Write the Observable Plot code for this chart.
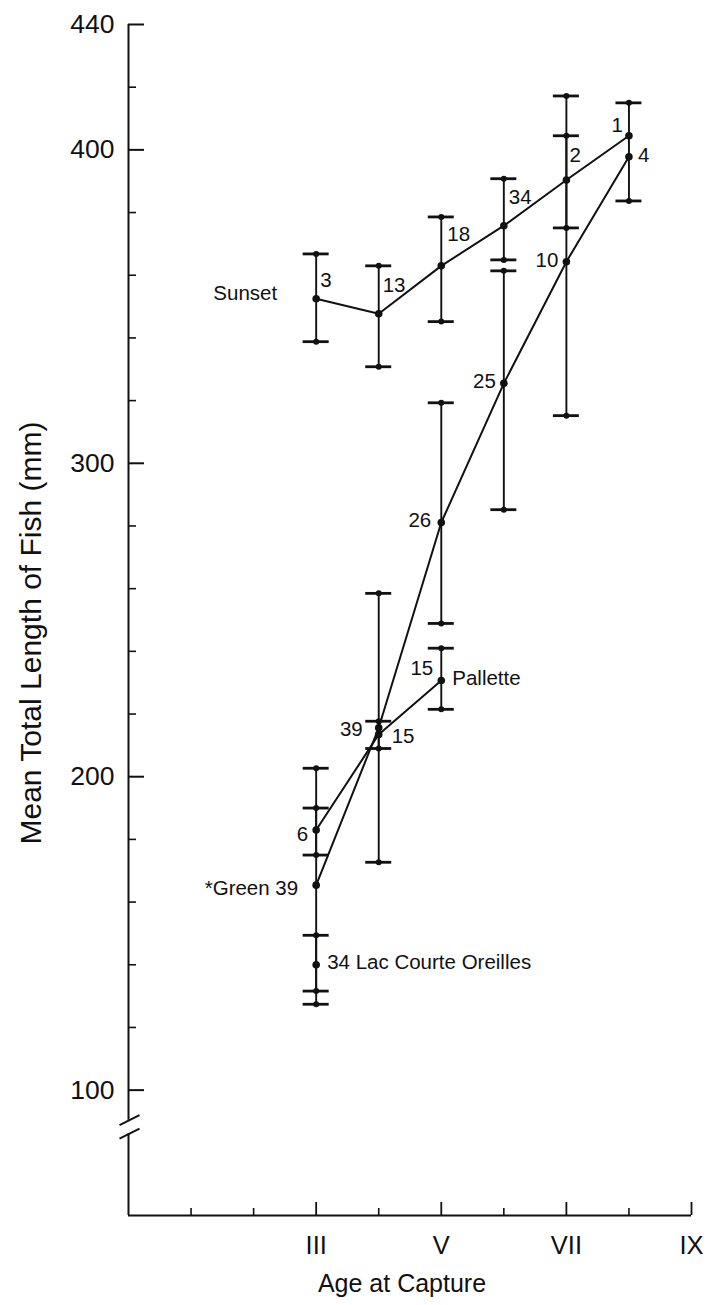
<!DOCTYPE html>
<html>
<head>
<meta charset="utf-8">
<script src="https://cdn.jsdelivr.net/npm/d3@7"></script>
<script src="https://cdn.jsdelivr.net/npm/@observablehq/plot@0.6"></script>
<style>
  html, body { margin: 0; padding: 0; background: #fff; }
  svg { display: block; }
</style>
</head>
<body>
<div id="chart"></div>
<script>
// ---------- data ----------
const yMajorTicks = [100, 200, 300, 400, 440];
const yMinorTicks = [120, 140, 160, 180, 220, 240, 260, 280, 320, 340, 360, 380, 420];
const xMajorTicks = [3, 5, 7, 9];
const xMajorLabels = ["III", "V", "VII", "IX"];
const xMinorTicks = [1, 2, 4, 6, 8];
const yTitle = "Mean Total Length of Fish (mm)";
const xTitle = "Age at Capture";

const sunsetAges = [3, 4, 5, 6, 7, 8];
const sunsetMean = [352.5, 347.7, 363.0, 375.8, 390.4, 404.5];
const sunsetLow  = [338.8, 330.8, 345.2, 364.9, 375.1, null];
const sunsetHigh = [366.8, 363.0, 378.6, 390.8, 404.5, null];
const sunsetN    = [3, 13, 18, 34, 2, 1];

const greenAges = [3, 4, 5, 6, 7, 8];
const greenMean = [165.4, 215.6, 281.1, 325.5, 364.3, 397.8];
const greenLow  = [127.4, 172.7, 248.9, 285.2, 315.2, 383.7];
const greenHigh = [202.7, 258.5, 319.3, 361.4, 417.2, 415.0];
const greenN    = [39, 39, 26, 25, 10, 4];

const palletteAges = [3, 4, 5];
const palletteMean = [183.0, 213.5, 230.7];
const palletteLow  = [175.0, 209.0, 221.5];
const palletteHigh = [190.0, 217.7, 241.0];
const palletteN    = [6, 15, 15];

const lacAges = [3];
const lacMean = [140.0];
const lacLow  = [131.6];
const lacHigh = [149.4];
const lacN    = [34];

const seriesNames = ["Sunset", "Green", "Pallette", "Lac Courte Oreilles"];

// ---------- build tables ----------
const seriesTable = [
  {name: seriesNames[0], ages: sunsetAges, mean: sunsetMean, low: sunsetLow, high: sunsetHigh, n: sunsetN},
  {name: seriesNames[1], ages: greenAges, mean: greenMean, low: greenLow, high: greenHigh, n: greenN},
  {name: seriesNames[2], ages: palletteAges, mean: palletteMean, low: palletteLow, high: palletteHigh, n: palletteN},
  {name: seriesNames[3], ages: lacAges, mean: lacMean, low: lacLow, high: lacHigh, n: lacN}
];
const points = seriesTable.flatMap(s => s.ages.map((a, i) => ({
  series: s.name, age: a, mean: s.mean[i], low: s.low[i], high: s.high[i], n: s.n[i]
})));
const bars = points.filter(p => p.low != null);
const caps = bars.flatMap(p => [{age: p.age, v: p.low}, {age: p.age, v: p.high}]);
const find = (series, age) => points.find(p => p.series === series && p.age === age);

// label texts (n values and series names) come from the data
const nameText = {
  "Sunset": p => "Sunset",
  "Green": p => `*Green ${p.n}`,
  "Pallette": p => "Pallette",
  "Lac Courte Oreilles": p => `${p.n} Lac Courte Oreilles`
};

// ---------- layout / style ----------
const W = 712, H = 1305;
const mL = 128, mR = 21, mT = 24, mB = 90;
const xDomain = [0, 9], yDomain = [60, 440];
const pxPerX = (W - mL - mR) / (xDomain[1] - xDomain[0]);
const pxPerY = (H - mT - mB) / (yDomain[1] - yDomain[0]);
const ink = "#111";
const font = "'Liberation Sans', Arial, Helvetica, sans-serif";

// label placements (style): which label, anchor, pixel offsets
const labelPlacement = [
  {series: "Sunset", age: 3, kind: "name", anchor: "end", dx: -39, dy: -5},
  {series: "Sunset", age: 3, kind: "n", anchor: "start", dx: 4, dy: -18},
  {series: "Sunset", age: 4, kind: "n", anchor: "start", dx: 4, dy: -28},
  {series: "Sunset", age: 5, kind: "n", anchor: "start", dx: 6, dy: -31},
  {series: "Sunset", age: 6, kind: "n", anchor: "start", dx: 5, dy: -28},
  {series: "Sunset", age: 7, kind: "n", anchor: "start", dx: 3, dy: -25},
  {series: "Sunset", age: 8, kind: "n", anchor: "end", dx: -6, dy: -10},
  {series: "Green", age: 3, kind: "name", anchor: "end", dx: -18, dy: 3},
  {series: "Green", age: 4, kind: "n", anchor: "end", dx: -16, dy: 2},
  {series: "Green", age: 5, kind: "n", anchor: "end", dx: -10, dy: -2},
  {series: "Green", age: 6, kind: "n", anchor: "end", dx: -8, dy: -2},
  {series: "Green", age: 7, kind: "n", anchor: "end", dx: -8, dy: -1},
  {series: "Green", age: 8, kind: "n", anchor: "start", dx: 9, dy: -1},
  {series: "Pallette", age: 3, kind: "n", anchor: "end", dx: -8, dy: 4},
  {series: "Pallette", age: 4, kind: "n", anchor: "start", dx: 13, dy: 2},
  {series: "Pallette", age: 5, kind: "n", anchor: "end", dx: -8, dy: -12},
  {series: "Pallette", age: 5, kind: "name", anchor: "start", dx: 11, dy: -2},
  {series: "Lac Courte Oreilles", age: 3, kind: "name", anchor: "start", dx: 11, dy: -2}
];

const labelMarks = labelPlacement.map(lp => {
  const p = find(lp.series, lp.age);
  return Plot.text([p], {
    x: "age", y: "mean",
    text: d => lp.kind === "n" ? String(d.n) : nameText[d.series](d),
    textAnchor: lp.anchor, dx: lp.dx, dy: lp.dy,
    fontSize: 20.5, fill: ink, fontFamily: font
  });
});

// axis break
const breakHi = 90.4, breakLo = 86.1;
const breakLines = [breakHi, breakLo];

const capHalf = 13 / pxPerX;
const yMajLen = 16 / pxPerX, yMinLen = 8 / pxPerX;
const xMajLen = 13 / pxPerY, xMinLen = 7 / pxPerY;

const chart = Plot.plot({
  width: W, height: H,
  marginLeft: mL, marginRight: mR, marginTop: mT, marginBottom: mB,
  x: {domain: xDomain, axis: null},
  y: {domain: yDomain, axis: null},
  style: {fontFamily: font, background: "#fff", color: ink},
  marks: [
    // y axis line with break
    Plot.ruleX([xDomain[0]], {y1: breakHi, y2: yDomain[1], stroke: ink, strokeWidth: 2}),
    Plot.ruleX([xDomain[0]], {y1: yDomain[0], y2: breakLo, stroke: ink, strokeWidth: 2}),
    Plot.link(breakLines, {
      x1: xDomain[0] - 9 / pxPerX, x2: xDomain[0] + 11 / pxPerX,
      y1: d => d - 5 / pxPerY, y2: d => d + 5 / pxPerY,
      stroke: ink, strokeWidth: 2
    }),
    // y ticks (inward)
    Plot.ruleY(yMajorTicks, {y: d => d, x1: xDomain[0], x2: xDomain[0] + yMajLen, stroke: ink, strokeWidth: 2}),
    Plot.ruleY(yMinorTicks, {y: d => d, x1: xDomain[0], x2: xDomain[0] + yMinLen, stroke: ink, strokeWidth: 1.6}),
    Plot.text(yMajorTicks, {x: xDomain[0], y: d => d, text: d => String(d), textAnchor: "end", dx: -14, dy: 0, fontSize: 26.5, fill: ink}),
    // x axis
    Plot.ruleY([yDomain[0]], {x1: xDomain[0], x2: xDomain[1], stroke: ink, strokeWidth: 2}),
    Plot.ruleX(xMajorTicks, {x: d => d, y1: yDomain[0], y2: yDomain[0] + xMajLen, stroke: ink, strokeWidth: 1.8}),
    Plot.ruleX(xMinorTicks, {x: d => d, y1: yDomain[0], y2: yDomain[0] + xMinLen, stroke: ink, strokeWidth: 1.6}),
    Plot.text(xMajorTicks, {x: d => d, y: yDomain[0], text: (d, i) => xMajorLabels[i], dy: 30, fontSize: 25.5, fill: ink}),
    // axis titles
    Plot.text([xTitle], {frameAnchor: "bottom", text: d => d, textAnchor: "middle", lineAnchor: "middle", dx: -8, dy: 68, fontSize: 25, fill: ink}),
    Plot.text([yTitle], {frameAnchor: "left", text: d => d, textAnchor: "middle", lineAnchor: "middle", rotate: -90, dx: -97, dy: 13, fontSize: 30, fill: ink}),
    // error bars
    Plot.ruleX(bars, {x: "age", y1: "low", y2: "high", stroke: ink, strokeWidth: 1.9}),
    Plot.ruleY(caps, {y: "v", x1: d => d.age - capHalf, x2: d => d.age + capHalf, stroke: ink, strokeWidth: 2.8}),
    Plot.dot(caps, {x: "age", y: "v", r: 3, fill: ink}),
    // series lines and means
    Plot.line(points, {x: "age", y: "mean", z: "series", stroke: ink, strokeWidth: 2}),
    Plot.dot(points, {x: "age", y: "mean", r: 3.8, fill: ink}),
    ...labelMarks
  ]
});

document.getElementById("chart").appendChild(chart);
</script>
</body>
</html>
